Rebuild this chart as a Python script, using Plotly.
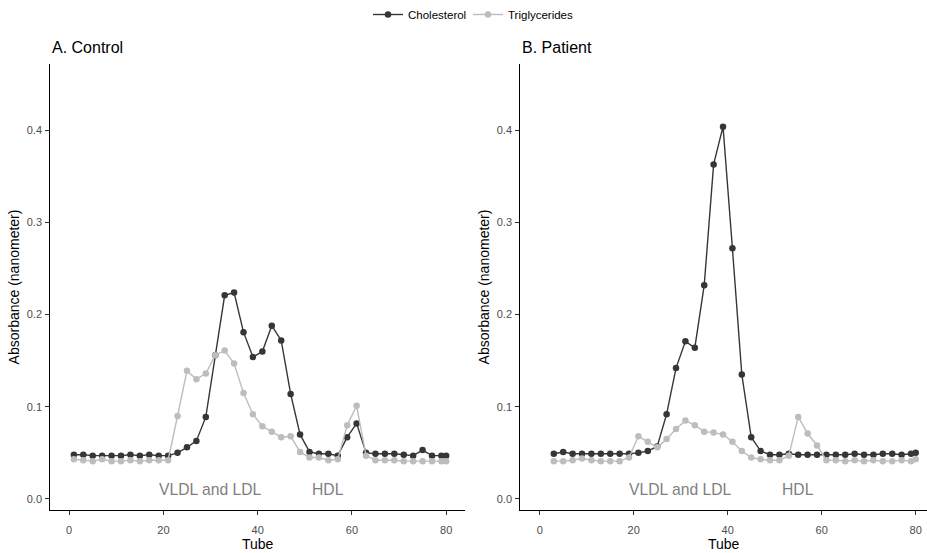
import plotly.graph_objects as go

# Tube numbers sampled in each run
control_tubes = list(range(1, 80, 2)) + [80]
patient_tubes = list(range(3, 80, 2)) + [80]

# Absorbance readings, control subject
control_cholesterol = [
    0.048, 0.048, 0.047, 0.047, 0.047, 0.047, 0.048, 0.047, 0.048, 0.047,
    0.047, 0.050, 0.056, 0.063, 0.089, 0.156, 0.221, 0.224, 0.181, 0.154,
    0.160, 0.188, 0.172, 0.114, 0.070, 0.051, 0.049, 0.049, 0.047, 0.067,
    0.082, 0.050, 0.049, 0.049, 0.049, 0.048, 0.047, 0.053, 0.047, 0.047,
    0.047,
]
control_triglycerides = [
    0.043, 0.042, 0.041, 0.043, 0.041, 0.041, 0.042, 0.041, 0.042, 0.042,
    0.042, 0.090, 0.139, 0.130, 0.136, 0.156, 0.161, 0.147, 0.115, 0.092,
    0.079, 0.073, 0.067, 0.068, 0.051, 0.045, 0.045, 0.042, 0.043, 0.080,
    0.101, 0.047, 0.042, 0.042, 0.042, 0.041, 0.041, 0.041, 0.041, 0.041,
    0.041,
]

# Absorbance readings, patient
patient_cholesterol = [
    0.049, 0.051, 0.049, 0.049, 0.049, 0.049, 0.049, 0.049, 0.049,
    0.050, 0.052, 0.057, 0.092, 0.142, 0.171, 0.164, 0.232, 0.363, 0.404,
    0.272, 0.135, 0.067, 0.052, 0.048, 0.048, 0.049, 0.048, 0.048, 0.048,
    0.048, 0.048, 0.048, 0.049, 0.048, 0.048, 0.049, 0.049, 0.048, 0.049,
    0.050,
]
patient_triglycerides = [
    0.041, 0.041, 0.042, 0.044, 0.042, 0.041, 0.041, 0.041, 0.045,
    0.068, 0.062, 0.056, 0.065, 0.076, 0.085, 0.080, 0.073, 0.072, 0.070,
    0.062, 0.052, 0.045, 0.043, 0.042, 0.042, 0.047, 0.089, 0.071, 0.058,
    0.042, 0.042, 0.041, 0.042, 0.041, 0.042, 0.041, 0.041, 0.042, 0.041,
    0.043,
]

series_names = ["Cholesterol", "Triglycerides"]
series_colors = ["#363636", "#BDBDBD"]
legend_ids = ["legend", "legend2"]

panel_titles = ["A. Control", "B. Patient"]
region_labels = ["VLDL and LDL", "HDL"]
region_x = [30, 55]
region_y = 0.01

y_ticks = [0.0, 0.1, 0.2, 0.3, 0.4]
x_ticks = [0, 20, 40, 60, 80]

W, H = 927, 553
FONT = "Liberation Sans, Arial, Helvetica, sans-serif"

fig = go.Figure()

panels = [
    (control_tubes, [control_cholesterol, control_triglycerides], "x", "y"),
    (patient_tubes, [patient_cholesterol, patient_triglycerides], "x2", "y2"),
]
for p, (tubes, series, xa, ya) in enumerate(panels):
    for name, vals, col, lg in zip(series_names, series, series_colors, legend_ids):
        fig.add_trace(go.Scatter(
            x=tubes, y=vals, mode="lines+markers", name=name,
            line=dict(color=col, width=1.4),
            marker=dict(color=col, size=6.5),
            xaxis=xa, yaxis=ya, showlegend=(p == 0), legendgroup=name,
            legend=lg,
        ))

# panel geometry in pixels
left_x = (50.3 / W, 465.0 / W)
right_x = (520.3 / W, 1.0)
y_dom = ((H - 510.0) / H, (H - 64.0) / H)

axis_common = dict(
    showline=True, linecolor="#000000", linewidth=1.1,
    ticks="outside", ticklen=4, tickwidth=1, tickcolor="#333333",
    showgrid=False, zeroline=False,
    tickfont=dict(family=FONT, size=11, color="#4D4D4D"),
)
x_common = dict(axis_common, ticklabelstandoff=6)
y_common = dict(axis_common, ticklabelstandoff=1)
title_font = dict(family=FONT, size=14, color="#000000")
x_title = dict(text="Tube", font=title_font, standoff=2)
y_title = dict(text="Absorbance (nanometer)", font=title_font, standoff=3)

legend_common = dict(
    orientation="h", xanchor="left", y=1.0, yanchor="top",
    font=dict(family=FONT, size=11.5, color="#000000"),
    itemwidth=30, bgcolor="rgba(0,0,0,0)",
)

fig.update_layout(
    width=W, height=H,
    margin=dict(l=0, r=0, t=0, b=0),
    paper_bgcolor="white", plot_bgcolor="white",
    font=dict(family=FONT),
    xaxis=dict(domain=left_x, range=[-4, 84], tickvals=x_ticks, anchor="y",
               title=x_title, **x_common),
    yaxis=dict(domain=y_dom, range=[-0.012, 0.472], tickvals=y_ticks, tickformat=".1f",
               anchor="x", title=y_title, **y_common),
    xaxis2=dict(domain=right_x, range=[-4.13, 82.4], tickvals=x_ticks, anchor="y2",
                title=x_title, **x_common),
    yaxis2=dict(domain=y_dom, range=[-0.012, 0.472], tickvals=y_ticks, tickformat=".1f",
                anchor="x2", title=y_title, **y_common),
    legend=dict(x=368 / W, **legend_common),
    legend2=dict(x=468 / W, **legend_common),
)

annotations = []
for title, xdom in zip(panel_titles, [left_x, right_x]):
    annotations.append(dict(
        text=title, xref="paper", yref="paper", x=xdom[0], y=(H - 47.5) / H,
        xanchor="left", yanchor="middle", showarrow=False,
        font=dict(family=FONT, size=16, color="#000000"),
    ))
for xa, ya in [("x", "y"), ("x2", "y2")]:
    for label, lx in zip(region_labels, region_x):
        annotations.append(dict(
            text=label, xref=xa, yref=ya, x=lx, y=region_y,
            xanchor="center", yanchor="middle", showarrow=False,
            font=dict(family=FONT, size=15.7, color="#7F7F7F"),
        ))
fig.update_layout(annotations=annotations)

fig.write_html("out.html")
